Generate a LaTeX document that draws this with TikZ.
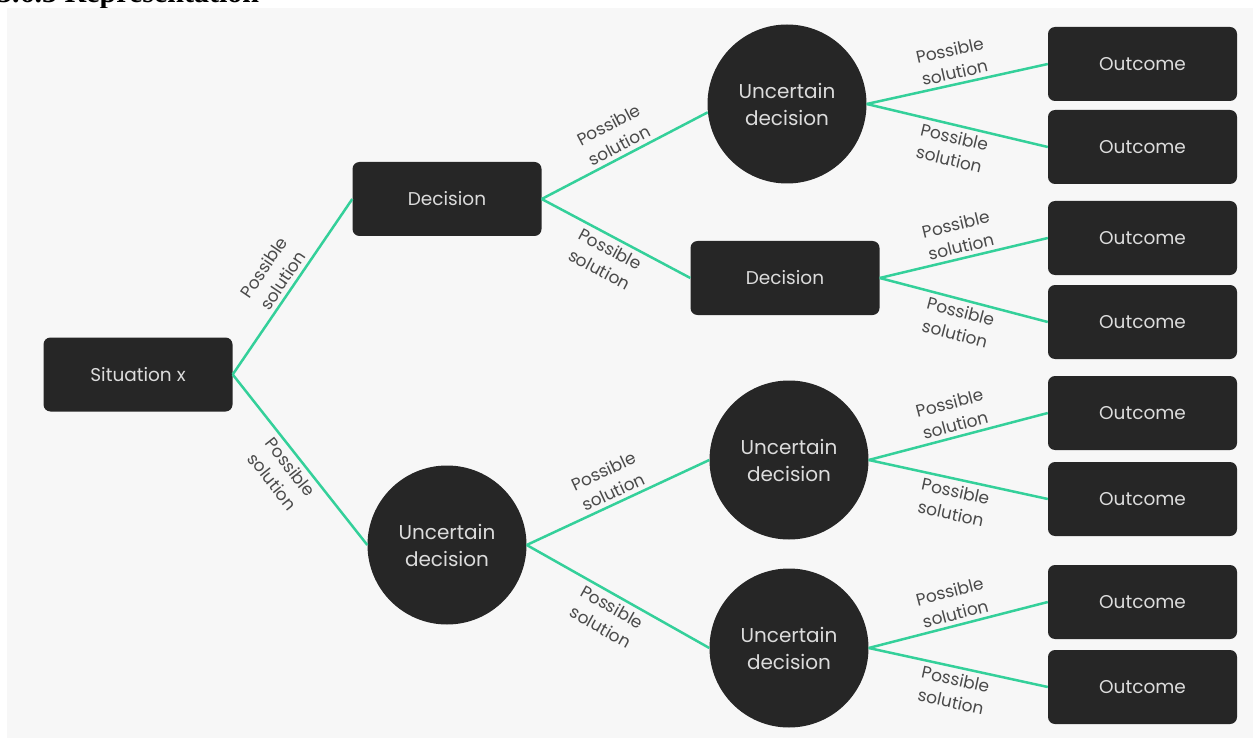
\documentclass[tikz,border=0pt]{standalone}
\usepackage{fontspec}
\setmainfont{Poppins}
\newfontfamily\headfont{Liberation Serif}
\definecolor{panel}{HTML}{F7F7F7}
\definecolor{boxfill}{HTML}{262626}
\definecolor{nodetext}{HTML}{DCDCDC}
\definecolor{branchgreen}{HTML}{34D09A}
\definecolor{labeltext}{HTML}{4A4A4A}
\begin{document}
\begin{tikzpicture}[x=1pt,y=-1pt,
  box/.style={fill=boxfill, rounded corners=7pt, minimum width=189pt,
    minimum height=74pt, inner sep=0pt, text=nodetext,
    font=\fontsize{18.5}{22}\selectfont},
  ucirc/.style={circle, fill=boxfill, minimum size=159pt, inner sep=0pt,
    text=nodetext, align=center, font=\fontsize{20}{27}\selectfont},
  branch/.style={draw=branchgreen, line width=2.5pt},
  lbl/.style={sloped, align=center, text=labeltext,
    font=\fontsize{17}{23}\selectfont, inner sep=4pt}
]
\useasboundingbox (0,0) rectangle (1253,738);

% section heading, mostly above the page edge
\node[anchor=base west, inner sep=0pt, font=\headfont\bfseries\fontsize{30}{30}\selectfont]
  (head) at (-3,3) {3.6.3 Representation};

% light panel behind the tree
\fill[panel] (7,8) rectangle (1253,738);

% decision and outcome nodes
\node[box] (sit) at (138,374.5) {Situation x};
\node[box] (dec1) at (447,199) {Decision};
\node[box] (dec2) at (785,278) {Decision};
\node[ucirc] (ut) at (787,104) {Uncertain\\decision};
\node[ucirc] (ubl) at (447,545) {Uncertain\\decision};
\node[ucirc] (umr) at (789,460) {Uncertain\\decision};
\node[ucirc] (ubr) at (789,648) {Uncertain\\decision};
\foreach \i/\y in {1/64,2/147,3/238,4/322,5/413,6/499,7/602,8/687}
  \node[box] (o\i) at (1142.5,\y) {Outcome};

% branches with their labels
\draw[branch] (sit.east) -- node[lbl, above] {Possible\\solution} (dec1.west);
\draw[branch] (sit.east) -- node[lbl, below] {Possible\\solution} (ubl.west);
\draw[branch] (dec1.east) -- node[lbl, above] {Possible\\solution} (ut.186);
\draw[branch] (dec1.east) -- node[lbl, below] {Possible\\solution} (dec2.west);
\draw[branch] (ubl.east) -- node[lbl, above] {Possible\\solution} (umr.west);
\draw[branch] (ubl.east) -- node[lbl, below] {Possible\\solution} (ubr.west);
\draw[branch] (ut.east) -- node[lbl, above] {Possible\\solution} (o1.west);
\draw[branch] (ut.east) -- node[lbl, below] {Possible\\solution} (o2.west);
\draw[branch] (dec2.east) -- node[lbl, above] {Possible\\solution} (o3.west);
\draw[branch] (dec2.east) -- node[lbl, below] {Possible\\solution} (o4.west);
\draw[branch] (umr.east) -- node[lbl, above] {Possible\\solution} (o5.west);
\draw[branch] (umr.east) -- node[lbl, below] {Possible\\solution} (o6.west);
\draw[branch] (ubr.east) -- node[lbl, above] {Possible\\solution} (o7.west);
\draw[branch] (ubr.east) -- node[lbl, below] {Possible\\solution} (o8.west);
\end{tikzpicture}
\end{document}
